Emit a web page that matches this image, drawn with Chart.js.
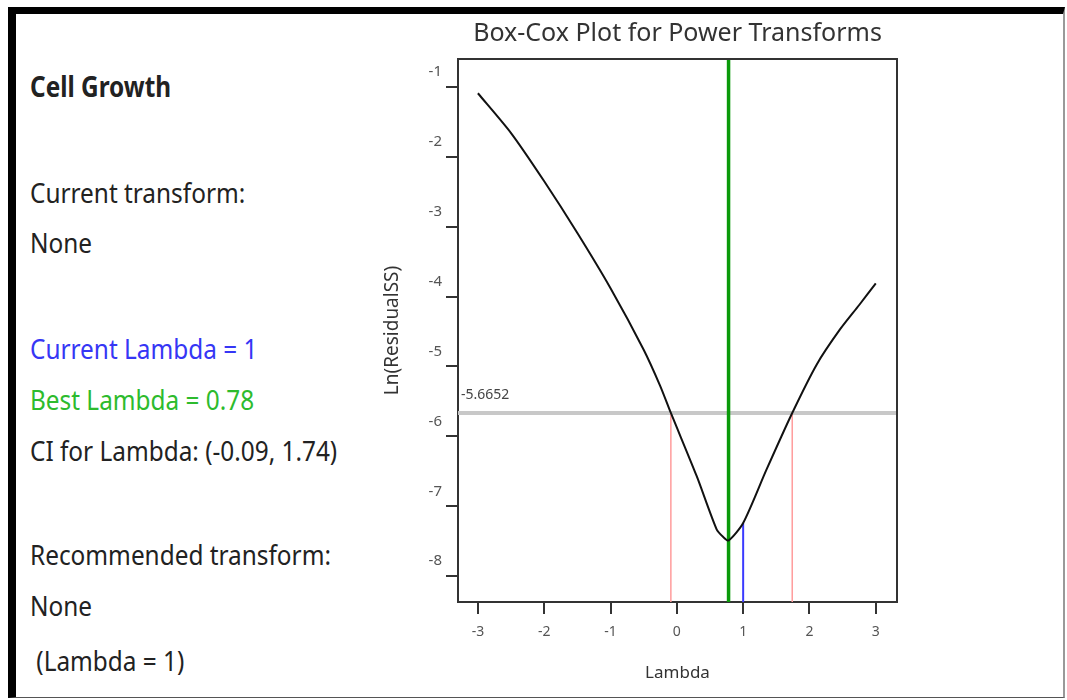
<!DOCTYPE html>
<html>
    <head>
        <title>Box-Cox</title>
        <meta charset="utf-8">
        <script src="https://cdn.jsdelivr.net/npm/chart.js"></script>
        <style>
          body { margin: 0; background: #fff; width: 1067px; height: 700px; overflow: hidden; position: relative; font-family: "Noto Sans", sans-serif; }
          #frame {
            position: absolute; left: 8px; top: 7px; width: 1057px; height: 691px;
            border-top: 7px solid #000; border-left: 8px solid #000;
            border-right: 2px solid #999; border-bottom: 1px solid #555;
            box-sizing: border-box;
          }
          .info {
            position: absolute; left: 30px; font-size: 28px; line-height: 32px; color: #222;
            white-space: pre; transform: scaleX(0.87); transform-origin: left center;
          }
          #chartBox { position: absolute; left: 340px; top: 0; }
        </style>
    </head>
    <body>
        <div id="frame"></div>
        <div class="info" style="top:70px; font-weight:bold;">Cell Growth</div>
        <div class="info" style="top:176px;">Current transform:</div>
        <div class="info" style="top:226px;">None</div>
        <div class="info" style="top:332px; color:#3636f5;">Current Lambda = 1</div>
        <div class="info" style="top:383px; color:#2dbb2d;">Best Lambda = 0.78</div>
        <div class="info" style="top:434px;">CI for Lambda: (-0.09, 1.74)</div>
        <div class="info" style="top:538px;">Recommended transform:</div>
        <div class="info" style="top:589px;">None</div>
        <div class="info" style="top:644px;"> (Lambda = 1)</div>

        <div id="chartBox"><canvas id="boxcox" width="727" height="700"></canvas></div>

        <script>
            // curve
            const lambdas = [-3, -2.5, -2, -1.5, -1, -0.5, -0.25, -0.09, 0.30, 0.60, 0.70, 0.78, 1.0, 1.35, 1.74, 2.11, 2.46, 2.75, 3.0];
            const lnRss   = [-1.09, -1.66, -2.35, -3.09, -3.88, -4.76, -5.28, -5.6652, -6.57, -7.33, -7.44, -7.49, -7.24, -6.48, -5.6652, -4.97, -4.47, -4.12, -3.81];

            const bestLambda = 0.78;
            const currentLambda = 1;
            const currentLnRss = -7.24;
            const ciLow = -0.09;
            const ciHigh = 1.74;
            const ciLevel = -5.6652;

            const xRange = [-3.3, 3.32];
            const yRange = [-8.37, -0.6];
            const xTicks = [-3, -2, -1, 0, 1, 2, 3];
            const yTicks = [-1, -2, -3, -4, -5, -6, -7, -8];

            const curve = lambdas.map((l, i) => ({x: l, y: lnRss[i]}));

            function vline(x, y0, y1) { return [{x: x, y: y0}, {x: x, y: y1}]; }

            // frame on top/right plus the CI level label
            const extras = {
                id: "extras",
                afterDatasetsDraw(chart) {
                    const {ctx, chartArea: a, scales} = chart;
                    ctx.save();
                    ctx.strokeStyle = "#333";
                    ctx.lineWidth = 2;
                    ctx.beginPath();
                    ctx.moveTo(a.left, a.top);
                    ctx.lineTo(a.right, a.top);
                    ctx.lineTo(a.right, a.bottom);
                    ctx.stroke();
                    ctx.fillStyle = "#444";
                    ctx.font = "14px 'Noto Sans'";
                    ctx.textBaseline = "middle";
                    ctx.fillText(ciLevel.toFixed(4), a.left + 3, scales.y.getPixelForValue(ciLevel) - 18);
                    ctx.restore();
                }
            };

            new Chart(document.getElementById("boxcox"), {
                type: "line",
                data: {
                    datasets: [
                        { data: curve, borderColor: "#111", borderWidth: 2, tension: 0.25 },
                        { data: vline(bestLambda, yRange[0], yRange[1]), borderColor: "#0a9a0a", borderWidth: 3.5 },
                        { data: vline(currentLambda, yRange[0], currentLnRss), borderColor: "#3a3aff", borderWidth: 2 },
                        { data: vline(ciLow, yRange[0], ciLevel), borderColor: "#ff9c9c", borderWidth: 1.5 },
                        { data: vline(ciHigh, yRange[0], ciLevel), borderColor: "#ff9c9c", borderWidth: 1.5 },
                        { data: [{x: xRange[0], y: ciLevel}, {x: xRange[1], y: ciLevel}], borderColor: "#c8c8c8", borderWidth: 4 }
                    ]
                },
                options: {
                    responsive: false,
                    animation: false,
                    elements: { point: { radius: 0 } },
                    layout: { padding: { left: 0, right: 170, top: 0, bottom: 0 } },
                    plugins: {
                        legend: { display: false },
                        tooltip: { enabled: false },
                        title: {
                            display: true,
                            text: "Box-Cox Plot for Power Transforms",
                            fullSize: false,
                            color: "#333",
                            font: { family: "Noto Sans", size: 25, weight: "normal", lineHeight: 1 },
                            padding: { top: 21, bottom: 13 }
                        }
                    },
                    scales: {
                        x: {
                            type: "linear",
                            min: xRange[0], max: xRange[1],
                            afterBuildTicks: s => { s.ticks = xTicks.map(v => ({value: v})); },
                            afterFit: s => { s.height = 98; },
                            grid: { drawOnChartArea: false, tickLength: 12, color: "#333", lineWidth: 2 },
                            border: { color: "#333", width: 2 },
                            ticks: { color: "#555", padding: 10, font: { family: "Noto Sans", size: 14 } },
                            title: { display: true, text: "Lambda", color: "#333", padding: { bottom: 17 }, font: { family: "Noto Sans", size: 17 } }
                        },
                        y: {
                            type: "linear",
                            min: yRange[0], max: yRange[1],
                            afterBuildTicks: s => { s.ticks = yTicks.map(v => ({value: v})); },
                            afterFit: s => { s.width = 118; },
                            grid: { drawOnChartArea: false, tickLength: 12, color: "#333", lineWidth: 2 },
                            border: { color: "#333", width: 2 },
                            ticks: { color: "#555", padding: 4, labelOffset: -15, font: { family: "Noto Sans", size: 15 } },
                            title: { display: true, text: "Ln(ResidualSS)", color: "#333", padding: { top: 41 }, font: { family: "Noto Sans", size: 19 } }
                        }
                    }
                },
                plugins: [extras]
            });
        </script>
    </body>
</html>
